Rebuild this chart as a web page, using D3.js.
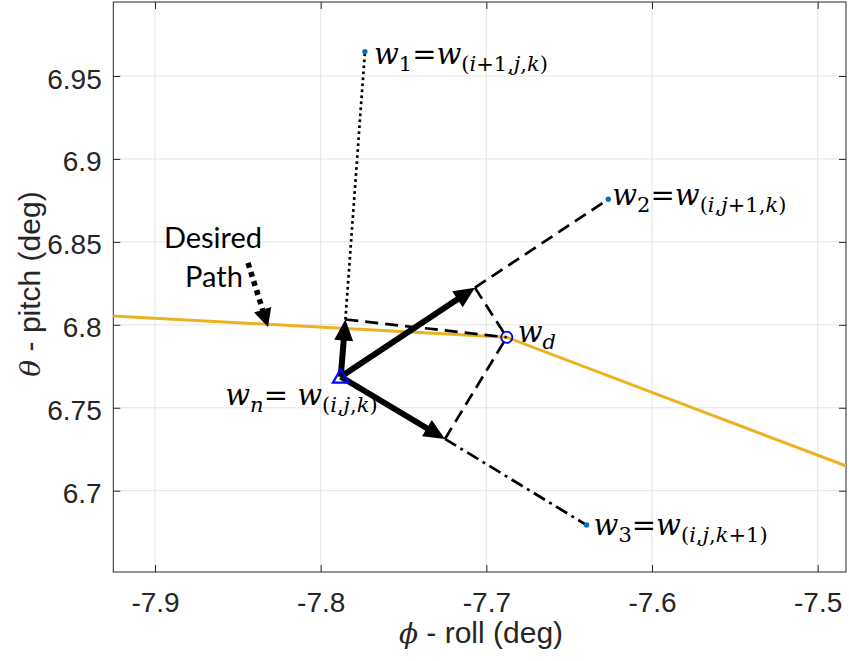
<!DOCTYPE html>
<html><head><meta charset="utf-8">
<script src="https://cdn.jsdelivr.net/npm/d3@7"></script>
<style>body{margin:0;background:#fff}</style>
</head><body><svg id="c" width="849" height="661"></svg>
<script>
// ---- data ----
const xDomain = [-7.9252, -7.4829];
const yDomain = [6.651, 6.9946];
const xTicks = [-7.9, -7.8, -7.7, -7.6, -7.5];
const xTickLabels = ["-7.9", "-7.8", "-7.7", "-7.6", "-7.5"];
const yTicks = [6.7, 6.75, 6.8, 6.85, 6.9, 6.95];
const yTickLabels = ["6.7", "6.75", "6.8", "6.85", "6.9", "6.95"];
// desired path (orange)
const pathX = [-7.96, -7.6877, -7.45];
const pathY = [6.8072, 6.7925, 6.7025];
// nodes: wn, w1, w2, w3, wd
const nodeNames = ["wn", "w1", "w2", "w3", "wd"];
const nodeX = [-7.7879, -7.7733, -7.6264, -7.6395, -7.6877];
const nodeY = [6.7687, 6.9647, 6.8757, 6.6793, 6.7925];
// projections of wd onto directions wn->w1, wn->w2, wn->w3
const projNames = ["p1", "p2", "p3"];
const projX = [-7.7851, -7.7069, -7.7250];
const projY = [6.8032, 6.8224, 6.7312];
// labels
const nodeLabels = {
  w1: "w_{1}=w_{(i+1,j,k)}",
  w2: "w_{2}=w_{(i,j+1,k)}",
  w3: "w_{3}=w_{(i,j,k+1)}",
  wd: "w_{d}",
  wn: "w_{n}= w_{(i,j,k)}"
};
const annotText = ["Desired", "Path"];
const annotArrowX = [-7.8439, -7.8318];
const annotArrowY = [6.8373, 6.7987];
const xLabelSym = "\u03D5", xLabel = " - roll (deg)";
const yLabelSym = "\u03B8", yLabel = " - pitch (deg)";

// ---- layout ----
const L = 113.3, R = 846, T = 2, B = 572;
const svg = d3.select("#c");
const x = d3.scaleLinear().domain(xDomain).range([L, R]);
const y = d3.scaleLinear().domain(yDomain).range([B, T]);
const ink = "#262626";
const P = {};
nodeNames.forEach((n, i) => P[n] = [x(nodeX[i]), y(nodeY[i])]);
projNames.forEach((n, i) => P[n] = [x(projX[i]), y(projY[i])]);

svg.append("defs").append("clipPath").attr("id", "clip")
  .append("rect").attr("x", L).attr("y", T).attr("width", R - L).attr("height", B - T);

// grid
const grid = svg.append("g").attr("stroke", "#e4e4e4").attr("stroke-width", 1);
xTicks.forEach(t => grid.append("line").attr("x1", x(t)).attr("x2", x(t)).attr("y1", T).attr("y2", B));
yTicks.forEach(t => grid.append("line").attr("y1", y(t)).attr("y2", y(t)).attr("x1", L).attr("x2", R));

// axes
const fmtX = (d) => xTickLabels[xTicks.indexOf(d)];
const fmtY = (d) => yTickLabels[yTicks.indexOf(d)];
const ax = (g) => { g.select(".domain").remove(); g.selectAll("line").attr("stroke", ink); g.selectAll("text").attr("fill", ink); };
const SANS = "Liberation Sans, Arial, sans-serif";
svg.append("g").attr("transform", `translate(0,${B})`)
  .call(d3.axisBottom(x).tickValues(xTicks).tickFormat(fmtX).tickSizeInner(-7).tickSizeOuter(0).tickPadding(20))
  .attr("font-family", SANS).attr("font-size", 28).call(ax);
svg.append("g").attr("transform", `translate(0,${T})`)
  .call(d3.axisTop(x).tickValues(xTicks).tickFormat("").tickSizeInner(-7).tickSizeOuter(0)).call(ax);
svg.append("g").attr("transform", `translate(${L},0)`)
  .call(d3.axisLeft(y).tickValues(yTicks).tickFormat(fmtY).tickSizeInner(-7).tickSizeOuter(0).tickPadding(11.6))
  .attr("font-family", SANS).attr("font-size", 28).call(ax)
  .selectAll("text").attr("dy", "0.43em");
svg.append("g").attr("transform", `translate(${R},0)`)
  .call(d3.axisRight(y).tickValues(yTicks).tickFormat("").tickSizeInner(-7).tickSizeOuter(0)).call(ax);
svg.append("rect").attr("x", L).attr("y", T).attr("width", R - L).attr("height", B - T)
  .attr("fill", "none").attr("stroke", ink).attr("stroke-width", 1);

// axis labels
function axisLabel(sym, rest) {
  const t = svg.append("text").attr("text-anchor", "middle")
    .attr("font-family", SANS).attr("font-size", 30).attr("fill", ink);
  t.append("tspan").attr("font-family", "DejaVu Serif, serif").attr("font-style", "italic").attr("font-size", 28).text(sym);
  t.append("tspan").text(rest);
  return t;
}
axisLabel(xLabelSym, xLabel).attr("x", 481).attr("y", 643);
axisLabel(yLabelSym, yLabel).attr("transform", `translate(40,${284}) rotate(-90)`);

// desired path
const pathData = pathX.map((v, i) => [x(v), y(pathY[i])]);
svg.append("path").attr("clip-path", "url(#clip)").attr("d", d3.line()(pathData))
  .attr("fill", "none").attr("stroke", "#EDB120").attr("stroke-width", 3);

// connector lines
const seg = (a, b, dash) => svg.append("line")
  .attr("x1", P[a][0]).attr("y1", P[a][1]).attr("x2", P[b][0]).attr("y2", P[b][1])
  .attr("stroke", "#000").attr("stroke-width", 2.7).attr("stroke-dasharray", dash).attr("fill", "none");
seg("p1", "w1", "2.7,3.3");
seg("p2", "w2", "13,7");
seg("p3", "w3", "13,5,3,5");
seg("p1", "wd", "13,7");
seg("p2", "wd", "13,7");
seg("p3", "wd", "13,7");

// arrows
function arrow(x0, y0, x1, y1, w, hl, hw, dash) {
  const dx = x1 - x0, dy = y1 - y0, len = Math.hypot(dx, dy);
  const ux = dx / len, uy = dy / len;
  const bx = x1 - ux * hl, by = y1 - uy * hl;
  svg.append("line").attr("x1", x0).attr("y1", y0).attr("x2", bx + ux * 1).attr("y2", by + uy * 1)
    .attr("stroke", "#000").attr("stroke-width", w).attr("stroke-dasharray", dash || null);
  svg.append("path").attr("d", `M${x1},${y1}L${bx - uy * hw},${by + ux * hw}L${bx + uy * hw},${by - ux * hw}Z`)
    .attr("fill", "#000");
}
["p1", "p2", "p3"].forEach(p => arrow(P.wn[0], P.wn[1], P[p][0], P[p][1], 6, 21, 9.5));
arrow(x(annotArrowX[0]), y(annotArrowY[0]), x(annotArrowX[1]), y(annotArrowY[1]), 5.5, 18, 9, "5,4.5");

// markers
["w1", "w2", "w3"].forEach(n => svg.append("circle").attr("cx", P[n][0]).attr("cy", P[n][1]).attr("r", 2.7).attr("fill", "#0072BD"));
svg.append("circle").attr("cx", P.wd[0]).attr("cy", P.wd[1]).attr("r", 5.6)
  .attr("fill", "none").attr("stroke", "#0000FF").attr("stroke-width", 1.8);
{
  const [cx, cy] = P.wn; const s = 7.8;
  svg.append("path").attr("d", `M${cx},${cy - s}L${cx + s},${cy + s * 0.75}L${cx - s},${cy + s * 0.75}Z`)
    .attr("fill", "none").attr("stroke", "#0000FF").attr("stroke-width", 2.2);
}

// math labels
function mathLabel(str, px, py, anchor) {
  const runs = [];
  let sub = false;
  for (let i = 0; i < str.length; i++) {
    const c = str[i];
    if (c === "_" && str[i + 1] === "{") { sub = true; i++; continue; }
    if (c === "}" && sub) { sub = false; continue; }
    const it = /[a-z]/.test(c);
    const last = runs[runs.length - 1];
    if (last && last.sub === sub && last.it === it) last.t += c;
    else runs.push({ t: c, sub, it });
  }
  const t = svg.append("text").attr("x", px).attr("y", py).attr("text-anchor", anchor || "start")
    .attr("font-family", "DejaVu Serif, serif").attr("fill", "#000");
  let cur = false;
  runs.forEach(r => {
    const ts = t.append("tspan").text(r.t)
      .attr("font-size", r.sub ? 21 : 29)
      .attr("font-style", r.it ? "italic" : "normal");
    if (r.sub !== cur) { ts.attr("dy", r.sub ? 7 : -7); cur = r.sub; }
  });
  return t;
}
mathLabel(nodeLabels.w1, P.w1[0] + 9, P.w1[1] + 12);
mathLabel(nodeLabels.w2, P.w2[0] + 4, P.w2[1] + 6);
mathLabel(nodeLabels.w3, P.w3[0] + 7, P.w3[1] + 10);
mathLabel(nodeLabels.wd, P.wd[0] + 11, P.wd[1] + 5);
mathLabel(nodeLabels.wn, P.wn[0] + 37, P.wn[1] + 28, "end");

// annotation text
const at = svg.append("text").attr("font-family", "Lato, Open Sans, sans-serif").attr("font-size", 29)
  .attr("fill", "#000").attr("text-anchor", "middle");
at.append("tspan").attr("x", 213).attr("y", 248).text(annotText[0]);
at.append("tspan").attr("x", 214).attr("y", 287).text(annotText[1]);
</script></body></html>
